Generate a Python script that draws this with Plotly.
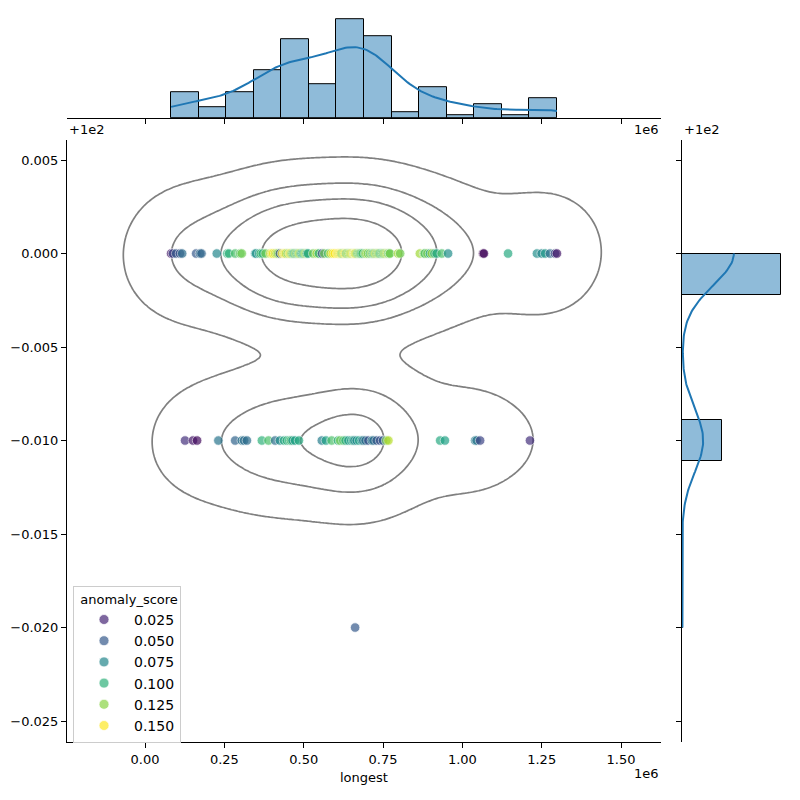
import numpy as np
import plotly.graph_objects as go
from plotly.colors import sample_colorscale

# ---------------- data (longest in units of 1e6) ----------------
LONGEST_TOP_M = [
    0.082, 0.088, 0.098, 0.110, 0.117, 0.161,
    0.173, 0.178, 0.226,
    0.259, 0.265, 0.284, 0.300, 0.305,
    0.347, 0.350, 0.360, 0.365, 0.371, 0.380, 0.395, 0.400, 0.404, 0.410, 0.415, 0.420, 0.425,
    0.432, 0.438, 0.441, 0.445, 0.450, 0.455, 0.458, 0.462, 0.466, 0.470, 0.474, 0.478, 0.482,
    0.486, 0.490, 0.494, 0.498, 0.502, 0.506, 0.510, 0.514,
    0.530, 0.541, 0.548, 0.558, 0.565, 0.577, 0.585, 0.592, 0.598,
    0.606, 0.610, 0.614, 0.618, 0.622, 0.626, 0.630, 0.634, 0.638, 0.642, 0.646, 0.650, 0.654,
    0.658, 0.660, 0.662, 0.666, 0.670, 0.674, 0.678, 0.682, 0.686,
    0.694, 0.698, 0.703, 0.709, 0.714, 0.718, 0.722, 0.726, 0.730, 0.734, 0.738, 0.742, 0.746,
    0.750, 0.754, 0.758, 0.762, 0.766, 0.770, 0.772,
    0.797, 0.804,
    0.866, 0.879, 0.882, 0.890, 0.898, 0.904, 0.912, 0.919, 0.935,
    0.955,
    1.065, 1.068,
    1.144,
    1.235, 1.250, 1.261, 1.276, 1.292, 1.298,
]
SCORE_TOP = [
    0.020, 0.040, 0.050, 0.045, 0.060, 0.050,
    0.060, 0.055, 0.075,
    0.100, 0.100, 0.110, 0.115, 0.120,
    0.085, 0.080, 0.090, 0.110, 0.100, 0.120, 0.140, 0.150, 0.145, 0.140, 0.130, 0.120, 0.045,
    0.150, 0.140, 0.150, 0.130, 0.120, 0.150, 0.140, 0.120, 0.110, 0.100, 0.130, 0.100, 0.120,
    0.140, 0.110, 0.090, 0.100, 0.120, 0.130, 0.090, 0.095,
    0.120, 0.130, 0.100, 0.040, 0.120, 0.110, 0.140, 0.150, 0.150,
    0.150, 0.140, 0.150, 0.130, 0.120, 0.140, 0.150, 0.110, 0.130, 0.120, 0.140, 0.130, 0.150,
    0.120, 0.150, 0.140, 0.130, 0.110, 0.120, 0.120, 0.100, 0.110,
    0.120, 0.130, 0.120, 0.110, 0.130, 0.100, 0.120, 0.140, 0.110, 0.130, 0.120, 0.100, 0.120,
    0.110, 0.130, 0.120, 0.140, 0.110, 0.120, 0.120,
    0.130, 0.120,
    0.130, 0.120, 0.110, 0.120, 0.090, 0.130, 0.100, 0.095, 0.110,
    0.080,
    0.010, 0.015,
    0.095,
    0.080, 0.075, 0.085, 0.060, 0.040, 0.020,
]
LONGEST_BOT_M = [
    0.126, 0.151, 0.164,
    0.231,
    0.284, 0.305, 0.312, 0.321,
    0.368, 0.389, 0.410, 0.425,
    0.438, 0.447, 0.455, 0.460, 0.465, 0.473, 0.485,
    0.557, 0.570, 0.588,
    0.608, 0.615, 0.625, 0.632, 0.641, 0.650, 0.656, 0.660, 0.667, 0.675, 0.683, 0.688,
    0.695, 0.704, 0.715, 0.720, 0.730, 0.741, 0.750, 0.760, 0.767,
    0.930, 0.945,
    1.040, 1.045, 1.056,
    1.213,
]
SCORE_BOT = [
    0.030, 0.020, 0.015,
    0.065,
    0.055, 0.065, 0.060, 0.060,
    0.100, 0.110, 0.060, 0.080,
    0.095, 0.100, 0.100, 0.110, 0.085, 0.090, 0.095,
    0.070, 0.090, 0.110,
    0.100, 0.120, 0.110, 0.100, 0.085, 0.090, 0.095, 0.075, 0.080, 0.090, 0.085, 0.060,
    0.060, 0.045, 0.070, 0.060, 0.050, 0.045, 0.050, 0.120, 0.135,
    0.095, 0.090,
    0.070, 0.065, 0.040,
    0.030,
]
LONGEST_OUT_M = [0.662]
SCORE_OUT = [0.050]

Y_TOP_VALUE = 100.00
Y_BOT_VALUE = 99.99
Y_OUT_VALUE = 99.98
Y_OFFSET = 100.0

LEGEND_SCORES = [0.025, 0.050, 0.075, 0.100, 0.125, 0.150]
LEGEND_LABELS = ["0.025", "0.050", "0.075", "0.100", "0.125", "0.150"]
X_TICKS = [0.0, 0.25, 0.5, 0.75, 1.0, 1.25, 1.5]
Y_TICKS = [0.005, 0.0, -0.005, -0.010, -0.015, -0.020, -0.025]

# ---------------- assemble ----------------
x = np.array(LONGEST_TOP_M + LONGEST_BOT_M + LONGEST_OUT_M, dtype=float)
yraw = np.array([Y_TOP_VALUE] * len(LONGEST_TOP_M) + [Y_BOT_VALUE] * len(LONGEST_BOT_M)
                + [Y_OUT_VALUE] * len(LONGEST_OUT_M))
y = yraw - Y_OFFSET
s = np.array(SCORE_TOP + SCORE_BOT + SCORE_OUT, dtype=float)
n = len(x)
SMIN, SMAX = s.min(), s.max()

# ---------------- 2D KDE (scott) ----------------
data = np.vstack([x, y])
fac2 = n ** (-1.0 / 6.0)
cov = np.cov(data) * fac2 ** 2
inv = np.linalg.inv(cov)
normc = 1.0 / (2 * np.pi * np.sqrt(np.linalg.det(cov)) * n)
bw2 = np.sqrt(np.diag(cov))
gx = np.linspace(x.min() - 3 * bw2[0], x.max() + 3 * bw2[0], 200)
gy = np.linspace(y.min() - 3 * bw2[1], y.max() + 3 * bw2[1], 200)
XX, YY = np.meshgrid(gx, gy)
dx = XX[:, :, None] - x[None, None, :]
dy = YY[:, :, None] - y[None, None, :]
q = inv[0, 0] * dx ** 2 + 2 * inv[0, 1] * dx * dy + inv[1, 1] * dy ** 2
Z = normc * np.exp(-0.5 * q).sum(axis=2)

vals = np.sort(Z.ravel())[::-1]
cum = np.cumsum(vals) / vals.sum()
iso = np.linspace(0.05, 1, 5)
idx = np.searchsorted(cum, 1 - iso)
levels = vals.take(idx, mode="clip")[:-1]

XR = [-0.246, 1.626]
YR = [-0.02612, 0.00607]

# ---------------- marginals ----------------
cx, ex = np.histogram(x, bins=14)
bwx_bin = np.diff(ex).mean()
cy, ey = np.histogram(y, bins=9)
bwy_bin = np.diff(ey).mean()

f1 = n ** (-1.0 / 5.0)
hx = f1 * x.std(ddof=1)
sx = np.linspace(x.min(), x.max(), 200)
kx = np.exp(-0.5 * ((sx[:, None] - x[None, :]) / hx) ** 2).sum(1) / (n * hx * np.sqrt(2 * np.pi))
kx = kx * n * bwx_bin
hy = f1 * y.std(ddof=1)
sy = np.linspace(y.min(), y.max(), 200)
ky = np.exp(-0.5 * ((sy[:, None] - y[None, :]) / hy) ** 2).sum(1) / (n * hy * np.sqrt(2 * np.pi))
ky = ky * n * bwy_bin

top_max = 1.05 * max(cx.max(), kx.max())
right_max = 1.05 * max(cy.max(), ky.max())

BLUE = "#1f77b4"
BAR_FILL = "rgba(31,119,180,0.5)"
FONT = "DejaVu Sans"

fig = go.Figure()

fig.add_trace(go.Scatter(
    x=x, y=y, mode="markers", showlegend=False, hoverinfo="skip",
    marker=dict(color=s, colorscale="Viridis", cmin=SMIN, cmax=SMAX, size=9.5, opacity=0.7,
                line=dict(color="white", width=0.75)),
))

for L in levels:
    fig.add_trace(go.Contour(
        x=gx, y=gy, z=Z, showscale=False, showlegend=False, hoverinfo="skip",
        contours=dict(start=L, end=L, size=L, coloring="none"),
        line=dict(color="#808080", width=1.7, smoothing=1),
    ))

leg_cols = sample_colorscale("Viridis", [(v - SMIN) / (SMAX - SMIN) for v in LEGEND_SCORES])
for lab, c in zip(LEGEND_LABELS, leg_cols):
    fig.add_trace(go.Scatter(
        x=[None], y=[None], mode="markers", name=lab,
        marker=dict(color=c, size=10, opacity=0.7, line=dict(color="white", width=0.75)),
    ))

# top marginal
fig.add_trace(go.Bar(
    x=(ex[:-1] + ex[1:]) / 2, y=cx, width=bwx_bin, xaxis="x2", yaxis="y2", showlegend=False,
    marker=dict(color=BAR_FILL, line=dict(color="black", width=1)), hoverinfo="skip",
))
fig.add_trace(go.Scatter(x=sx, y=kx, mode="lines", xaxis="x2", yaxis="y2", showlegend=False,
                         line=dict(color=BLUE, width=2), hoverinfo="skip"))
# right marginal
fig.add_trace(go.Bar(
    y=(ey[:-1] + ey[1:]) / 2, x=cy, width=bwy_bin, orientation="h", xaxis="x3", yaxis="y3",
    showlegend=False, marker=dict(color=BAR_FILL, line=dict(color="black", width=1)), hoverinfo="skip",
))
fig.add_trace(go.Scatter(x=ky, y=sy, mode="lines", xaxis="x3", yaxis="y3", showlegend=False,
                         line=dict(color=BLUE, width=2), hoverinfo="skip"))

W = 800.0
main_x = [67 / W, 661 / W]
main_y = [1 - 742 / W, 1 - 140 / W]
axis_common = dict(showgrid=False, zeroline=False, showline=True, linecolor="black", linewidth=1,
                   ticks="outside", ticklen=5, tickwidth=1, tickcolor="black",
                   tickfont=dict(family=FONT, size=13, color="black"))

fig.update_layout(
    width=800, height=800, margin=dict(l=0, r=0, t=0, b=0),
    template="none", paper_bgcolor="white", plot_bgcolor="white",
    font=dict(family=FONT, size=13, color="black"),
    bargap=0,
    xaxis=dict(domain=main_x, range=XR, anchor="y", tickvals=X_TICKS, tickformat=".2f", **axis_common),
    yaxis=dict(domain=main_y, range=YR, anchor="x", tickvals=Y_TICKS, tickformat=".3f", **axis_common),
    xaxis2=dict(domain=main_x, range=XR, anchor="y2", tickvals=X_TICKS, showticklabels=False, **axis_common),
    yaxis2=dict(domain=[1 - 118 / W, 1 - 14.2 / W], range=[0, top_max], anchor="x2", visible=False),
    xaxis3=dict(domain=[682 / W, 785.8 / W], range=[0, right_max], anchor="y3", visible=False),
    yaxis3=dict(domain=main_y, range=YR, anchor="x3", tickvals=Y_TICKS, showticklabels=False, **axis_common),
    legend=dict(x=73 / W, y=1 - 586 / W, xanchor="left", yanchor="top",
                bgcolor="rgba(255,255,255,0.8)", bordercolor="#cccccc", borderwidth=1,
                font=dict(family=FONT, size=14), tracegroupgap=0, itemwidth=50,
                title=dict(text=" anomaly_score", side="top center", font=dict(family=FONT, size=13))),
    annotations=[
        dict(text="+1e2", x=67 / W, y=1 - 130 / W, xref="paper", yref="paper", xanchor="left",
             yanchor="middle", showarrow=False, font=dict(family=FONT, size=13)),
        dict(text="1e6", x=661 / W, y=1 - 129 / W, xref="paper", yref="paper", xanchor="right",
             yanchor="middle", showarrow=False, font=dict(family=FONT, size=13)),
        dict(text="+1e2", x=682 / W, y=1 - 130 / W, xref="paper", yref="paper", xanchor="left",
             yanchor="middle", showarrow=False, font=dict(family=FONT, size=13)),
        dict(text="1e6", x=661 / W, y=1 - 773 / W, xref="paper", yref="paper", xanchor="right",
             yanchor="middle", showarrow=False, font=dict(family=FONT, size=13)),
        dict(text="longest", x=364 / W, y=1 - 777 / W, xref="paper", yref="paper", xanchor="center",
             yanchor="middle", showarrow=False, font=dict(family=FONT, size=13)),
    ],
)

fig.write_html("out.html")
